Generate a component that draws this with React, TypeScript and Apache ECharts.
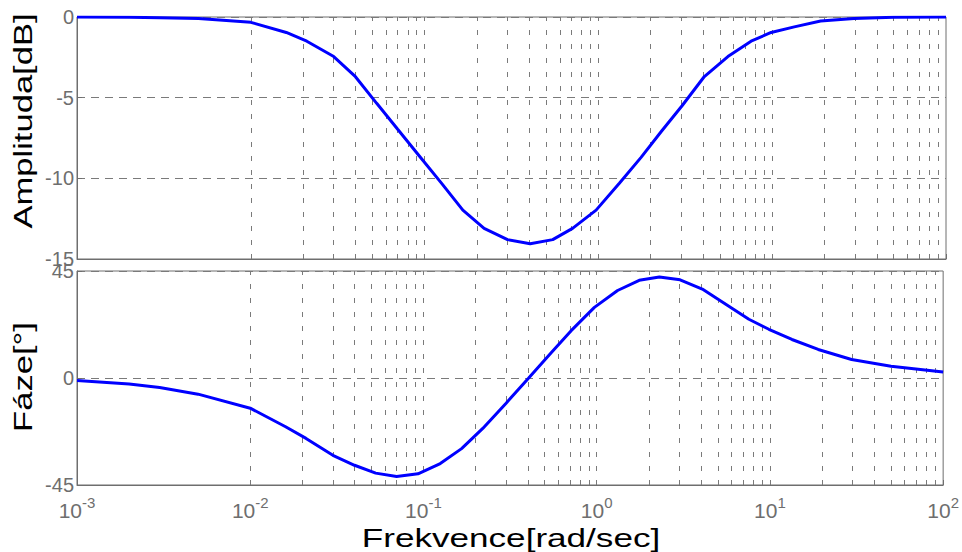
import React, { useEffect, useRef } from 'react';
import * as echarts from 'echarts';

const freq = [0.001, 0.002, 0.003, 0.005, 0.01, 0.016, 0.021, 0.03, 0.04, 0.053, 0.07, 0.093, 0.125, 0.166, 0.22, 0.3, 0.405, 0.546, 0.71, 0.97, 1.32, 1.76, 2.3, 3.03, 4.07, 5.56, 7.56, 9.86, 13.4, 19, 29.6, 50, 100];
const amplitudeDb = [0, -0.01, -0.04, -0.09, -0.33, -0.96, -1.5, -2.45, -3.7, -5.35, -6.96, -8.6, -10.3, -11.97, -13.1, -13.8, -14.05, -13.8, -13.1, -11.97, -10.3, -8.7, -7.1, -5.5, -3.69, -2.45, -1.5, -0.96, -0.61, -0.25, -0.1, -0.02, 0];
const phaseDeg = [-1.1, -2.5, -4.0, -6.8, -12.7, -20.5, -25.4, -32.5, -36.7, -40.0, -41.4, -40.3, -36, -29.7, -21.2, -10.6, 0, 10.6, 19.8, 29.7, 36.8, 41.1, 42.5, 41.3, 37.4, 31, 24.7, 20.5, 16.2, 12, 7.8, 4.9, 2.5];

const decades = [0.001, 0.01, 0.1, 1, 10];
const multipliers = [1, 2, 3, 4, 5, 6, 7, 8, 9];

const amplitudeTitle = 'Amplituda[dB]';
const phaseTitle = 'Fáze[°]';
const freqTitle = 'Frekvence[rad/sec]';

const FONT = 'Arial, "Liberation Sans", sans-serif';
const AXIS_COLOR = '#6e6e6e';
const GRID_COLOR = '#7a7a7a';

export default function App() {
  const ref = useRef<HTMLDivElement>(null);
  useEffect(() => {
    const chart = echarts.init(ref.current!, null, { renderer: 'svg' });
    const vGrid: number[] = [];
    decades.forEach((d) => multipliers.forEach((m) => {
      const v = +(d * m).toPrecision(6);
      if (v > 0.001) vGrid.push(v);
    }));

    const ampData = freq.map((f, i) => [f, amplitudeDb[i]]);
    const phaseData = freq.map((f, i) => [f, phaseDeg[i]]);

    const xAxisBase = (gridIndex: number, showLabel: boolean) => ({
      type: 'log',
      logBase: 10,
      min: 0.001,
      max: 100,
      gridIndex,
      axisLine: { show: true, onZero: false, lineStyle: { color: AXIS_COLOR, width: 1 } },
      axisTick: { show: true, inside: true, length: 5, lineStyle: { color: AXIS_COLOR } },
      splitLine: { show: false },
      axisLabel: {
        show: showLabel,
        margin: 10,
        color: AXIS_COLOR,
        fontFamily: FONT,
        formatter: (v: number) => '{b|10}{s|' + Math.round(Math.log10(v)) + '}',
        rich: {
          b: { fontSize: 21, fontFamily: FONT, color: AXIS_COLOR },
          s: { fontSize: 15, fontFamily: FONT, color: AXIS_COLOR, padding: [0, 0, 16, 0] },
        },
      },
    });

    const yAxisBase = (gridIndex: number, min: number, max: number, interval: number) => ({
      type: 'value',
      gridIndex,
      min,
      max,
      interval,
      axisLine: { show: true, onZero: false, lineStyle: { color: AXIS_COLOR, width: 1 } },
      axisTick: { show: true, inside: true, length: 5, lineStyle: { color: AXIS_COLOR } },
      axisLabel: { fontSize: 20, fontFamily: FONT, color: AXIS_COLOR, margin: 3 },
      splitLine: { show: true, lineStyle: { color: GRID_COLOR, type: [8, 6], width: 1 } },
    });

    const gridMarkLine = {
      silent: true,
      symbol: ['none', 'none'],
      label: { show: false },
      emphasis: { disabled: true },
      lineStyle: { color: GRID_COLOR, type: [5, 9], width: 1 },
      data: vGrid.map((v) => ({ xAxis: v })),
    };

    const nameStyle = { fontSize: 26, fontFamily: FONT, fill: '#000', align: 'center', verticalAlign: 'middle' };

    chart.setOption({
      animation: false,
      backgroundColor: '#fff',
      grid: [
        { left: 77, right: 16, top: 17, height: 242, show: true, borderColor: AXIS_COLOR, borderWidth: 1, backgroundColor: 'transparent' },
        { left: 77, right: 16, top: 271, height: 214, show: true, borderColor: AXIS_COLOR, borderWidth: 1, backgroundColor: 'transparent' },
      ],
      xAxis: [xAxisBase(0, false), xAxisBase(1, true)],
      yAxis: [yAxisBase(0, -15, 0, 5), yAxisBase(1, -45, 45, 45)],
      graphic: [
        { type: 'text', x: 23, y: 121, rotation: Math.PI / 2, scaleX: 1.33, style: { ...nameStyle, text: amplitudeTitle } },
        { type: 'text', x: 23, y: 377, rotation: Math.PI / 2, scaleX: 1.33, style: { ...nameStyle, text: phaseTitle } },
        { type: 'text', x: 511, y: 538, scaleX: 1.35, style: { ...nameStyle, text: freqTitle } },
      ],
      series: [
        { type: 'line', xAxisIndex: 0, yAxisIndex: 0, data: [], z: 1, markLine: gridMarkLine },
        { type: 'line', xAxisIndex: 1, yAxisIndex: 1, data: [], z: 1, markLine: gridMarkLine },
        {
          type: 'line', xAxisIndex: 0, yAxisIndex: 0, data: ampData, showSymbol: false, z: 5,
          lineStyle: { color: '#0000ff', width: 3 }, itemStyle: { color: '#0000ff' },
        },
        {
          type: 'line', xAxisIndex: 1, yAxisIndex: 1, data: phaseData, showSymbol: false, z: 5,
          lineStyle: { color: '#0000ff', width: 3 }, itemStyle: { color: '#0000ff' },
        },
      ],
    });
    return () => chart.dispose();
  }, []);
  return <div ref={ref} style={{ position: 'fixed', left: 0, top: 0, width: 962, height: 552 }} />;
}
